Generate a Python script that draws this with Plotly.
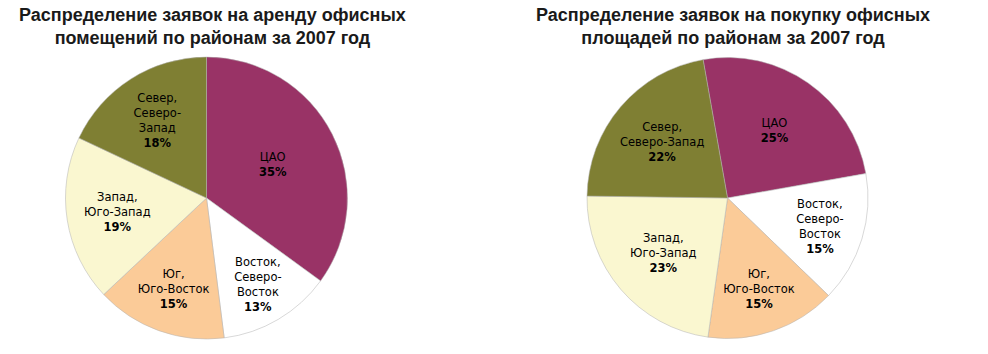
import plotly.graph_objects as go

categories = ["ЦАО", "Восток, Северо-Восток", "Юг, Юго-Восток", "Запад, Юго-Запад", "Север, Северо-Запад"]
rent_values = [35, 13, 15, 19, 18]
buy_values = [25, 15, 15, 23, 22]
rent_labels = ["ЦАО", "Восток,<br>Северо-<br>Восток", "Юг,<br>Юго-Восток", "Запад,<br>Юго-Запад", "Север,<br>Северо-<br>Запад"]
buy_labels = ["ЦАО", "Восток,<br>Северо-<br>Восток", "Юг,<br>Юго-Восток", "Запад,<br>Юго-Запад", "Север,<br>Северо-Запад"]
colors = ["#993366", "#FFFFFF", "#FBCB98", "#FAF7D0", "#7F7F33"]
titles = ["Распределение заявок на аренду офисных<br>помещений по районам за 2007 год",
          "Распределение заявок на покупку офисных<br>площадей по районам за 2007 год"]

W, H = 988, 354

def dom(cx, cy, r):
    return dict(x=[(cx - r) / W, (cx + r) / W], y=[(H - cy - r) / H, (H - cy + r) / H])

fig = go.Figure()
for vals, labs, rot, d in [(rent_values, rent_labels, 0, dom(206.5, 198, 141)),
                           (buy_values, buy_labels, -10, dom(727.5, 198, 140.5))]:
    fig.add_trace(go.Pie(
        labels=categories, values=vals, customdata=labs,
        texttemplate="%{customdata}<br><b>%{value}%</b>",
        textposition="inside", insidetextorientation="horizontal",
        textfont=dict(family="DejaVu Sans", size=11.5, color="black"),
        marker=dict(colors=colors, line=dict(color="#b0b0b0", width=0.5)),
        sort=False, direction="clockwise", rotation=rot,
        domain=d, showlegend=False, hoverinfo="label+percent",
    ))

for t, cx in zip(titles, [212, 733]):
    fig.add_annotation(text=f"<b>{t}</b>", x=cx / W, y=1 - 3 / H, xref="paper", yref="paper",
                       xanchor="center", yanchor="top", showarrow=False,
                       font=dict(family="Liberation Sans, Arial", size=18, color="#1a1a1a"))

fig.update_layout(width=W, height=H, margin=dict(l=0, r=0, t=0, b=0),
                  paper_bgcolor="white", plot_bgcolor="white")
fig.write_html("out.html")
